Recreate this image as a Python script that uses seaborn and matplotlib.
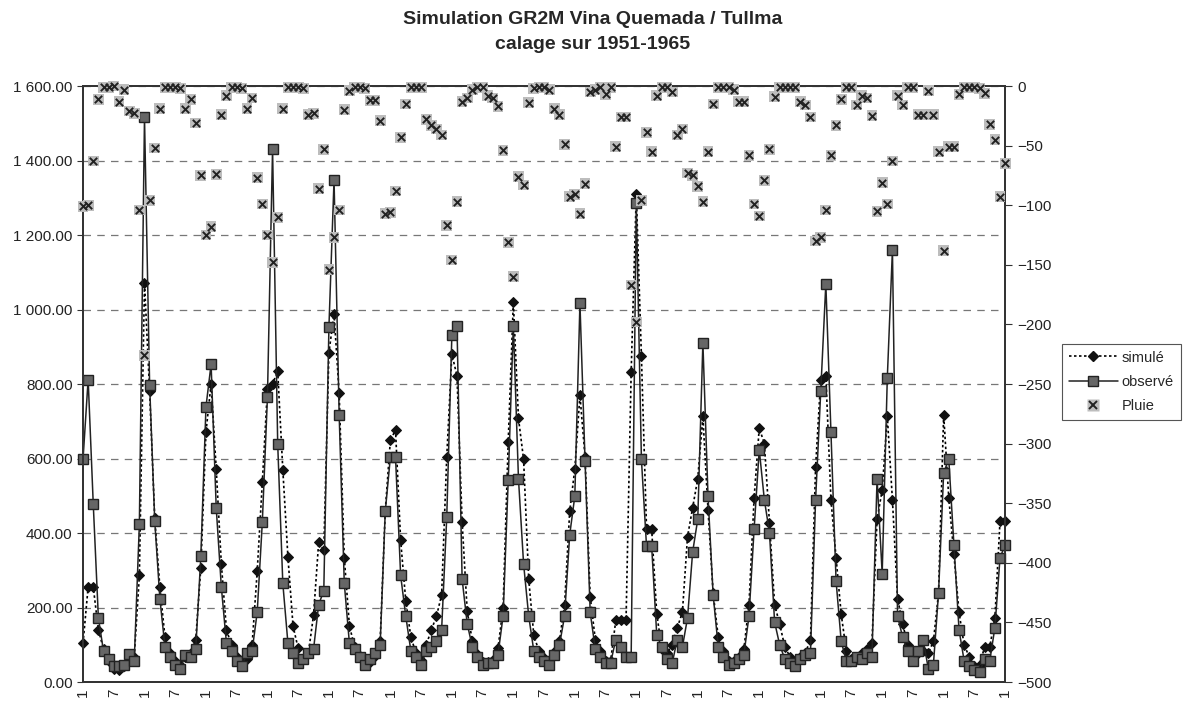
import numpy as np
import pandas as pd
import matplotlib
matplotlib.use("Agg")
import matplotlib.pyplot as plt
from matplotlib.ticker import FuncFormatter, MultipleLocator
from matplotlib.lines import Line2D
import seaborn as sns

# ---- data (monthly, Jan 1951 .. Jan 1966) ----
observe = [598, 812, 477, 172, 83, 62, 42, 42, 47, 75, 57, 424,
           1516, 798, 432, 224, 94, 68, 47, 36, 73, 68, 88, 338,
           739, 853, 468, 255, 104, 83, 57, 42, 78, 83, 187, 429,
           765, 1431, 640, 265, 104, 78, 52, 62, 78, 88, 208, 245,
           952, 1348, 718, 265, 104, 88, 68, 47, 62, 78, 99, 458,
           604, 604, 286, 177, 83, 68, 47, 83, 94, 109, 140, 442,
           931, 957, 276, 156, 94, 68, 47, 52, 52, 73, 177, 541,
           957, 546, 317, 177, 83, 68, 57, 47, 73, 99, 177, 395,
           499, 1017, 593, 187, 88, 68, 52, 52, 114, 94, 68, 68,
           1285, 598, 364, 364, 125, 94, 62, 50, 114, 94, 172, 349,
           437, 911, 499, 234, 94, 68, 47, 52, 62, 73, 177, 411,
           624, 489, 401, 161, 99, 62, 52, 42, 62, 73, 78, 489,
           780, 1069, 671, 271, 109, 57, 57, 68, 62, 78, 68, 546,
           291, 817, 1160, 177, 120, 83, 57, 83, 114, 36, 47, 239,
           562, 598, 369, 140, 57, 42, 31, 26, 62, 57, 146, 333,
           369]
simule = [104, 255, 255, 140, 88, 57, 36, 31, 42, 68, 68, 286,
          1072, 780, 440, 255, 120, 78, 57, 47, 68, 78, 114, 307,
          671, 801, 572, 317, 140, 99, 68, 52, 62, 99, 297, 536,
          786, 800, 835, 570, 335, 150, 90, 62, 78, 180, 375, 354,
          884, 989, 775, 333, 151, 95, 70, 50, 55, 70, 110, 460,
          650, 676, 380, 218, 120, 78, 60, 100, 140, 177, 234, 604,
          880, 822, 430, 190, 110, 75, 55, 55, 60, 90, 200, 645,
          1020, 708, 598, 276, 125, 83, 65, 55, 80, 110, 208, 458,
          572, 770, 604, 229, 114, 83, 57, 57, 166, 166, 166, 832,
          1311, 874, 411, 411, 182, 88, 78, 100, 146, 187, 390, 468,
          546, 713, 463, 239, 120, 83, 57, 57, 68, 88, 208, 494,
          682, 640, 427, 208, 155, 94, 68, 47, 68, 78, 114, 577,
          812, 822, 489, 333, 182, 83, 62, 68, 78, 88, 104, 437,
          515, 713, 489, 224, 156, 99, 73, 78, 83, 78, 109, 239,
          718, 494, 343, 187, 99, 68, 42, 47, 94, 94, 172, 432,
          432]
pluie = [101, 100, 63, 11, 1, 1, 0, 13, 3, 21, 23, 104,
         226, 96, 52, 19, 1, 1, 1, 2, 19, 11, 31, 75,
         125, 118, 74, 24, 8, 1, 1, 2, 19, 10, 77, 99,
         125, 148, 110, 19, 1, 1, 1, 2, 24, 23, 86, 53,
         154, 127, 104, 20, 4, 1, 1, 2, 12, 12, 29, 107,
         106, 88, 43, 15, 1, 1, 1, 28, 33, 36, 41, 117,
         146, 97, 13, 10, 3, 1, 1, 8, 10, 17, 54, 131,
         160, 76, 83, 14, 2, 1, 1, 3, 19, 24, 49, 93,
         91, 107, 82, 5, 3, 1, 7, 1, 51, 26, 26, 167,
         198, 96, 39, 55, 8, 1, 1, 5, 41, 36, 73, 75,
         84, 97, 55, 15, 1, 1, 1, 3, 13, 13, 58, 99,
         109, 79, 53, 9, 1, 1, 1, 1, 13, 16, 26, 130,
         127, 104, 58, 33, 11, 1, 1, 16, 8, 10, 25, 105,
         81, 99, 63, 8, 16, 1, 1, 24, 24, 4, 24, 55,
         138, 51, 51, 7, 1, 1, 1, 2, 6, 32, 45, 93,
         65]
month_labels = ["1", "7"]

n = len(observe)
mois = np.arange(n)
df = pd.DataFrame({"mois": mois, "simule": simule, "observe": observe,
                   "pluie_neg": -np.array(pluie, dtype=float)})

sns.set_style("white")
plt.rcParams["font.family"] = ["Liberation Sans", "DejaVu Sans"]

fig = plt.figure(figsize=(11.86, 7.05), dpi=100)
ax = fig.add_axes([0.070, 0.0326, 0.7775, 0.8454])

# gridlines
ax.yaxis.grid(True, linestyle=(0, (6, 5)), color="#777777", linewidth=0.9)
ax.set_axisbelow(True)

sns.lineplot(data=df, x="mois", y="simule", ax=ax, color="black",
             linestyle=(0, (1.5, 1.5)), linewidth=1.2, marker="D",
             markersize=5, markerfacecolor="#111111",
             markeredgecolor="#111111", label="simulé", legend=False,
             clip_on=False)
sns.lineplot(data=df, x="mois", y="observe", ax=ax, color="#222222",
             linewidth=1.1, marker="s", markersize=7,
             markerfacecolor="#666666", markeredgecolor="#222222",
             markeredgewidth=1.0, label="observé", legend=False, clip_on=False)

ax.set_xlim(0, n - 1)
ax.set_ylim(0, 1600)
ax.yaxis.set_major_locator(MultipleLocator(200))
ax.yaxis.set_major_formatter(FuncFormatter(lambda v, p: f"{v:,.2f}".replace(",", " ")))
ax.set_xticks(np.arange(0, n, 6))
ax.set_xticklabels([month_labels[(k // 6) % 2] for k in range(0, n, 6)],
                   rotation=90, fontsize=11)
ax.set_xticks(mois, minor=True)
ax.tick_params(axis="x", which="both", direction="inout", length=6,
               width=0.8, colors="#333333", pad=2)
ax.tick_params(axis="x", labelcolor="#222222")
ax.tick_params(axis="y", which="major", direction="out", length=4,
               labelsize=11, colors="#333333", labelcolor="#222222")
ax.set_xlabel("")
ax.set_ylabel("")

# right axis: rainfall
ax2 = ax.twinx()
sns.scatterplot(data=df, x="mois", y="pluie_neg", ax=ax2, marker="s", s=60,
                color="#bdbdbd", edgecolor="none", legend=False, clip_on=False,
                zorder=3)
sns.scatterplot(data=df, x="mois", y="pluie_neg", ax=ax2, marker="x", s=28,
                color="#222222", linewidth=1.4, legend=False, clip_on=False,
                zorder=4)
ax2.set_ylim(-500, 0)
ax2.yaxis.set_major_locator(MultipleLocator(50))
ax2.tick_params(axis="y", direction="out", length=5, labelsize=11,
                colors="#333333", labelcolor="#222222")
ax2.set_ylabel("")
ax2.set_xlim(0, n - 1)

for a in (ax, ax2):
    for s in a.spines.values():
        s.set_visible(True)
        s.set_color("#333333")
        s.set_linewidth(1.3)

fig.text(0.500, 0.972, "Simulation GR2M Vina Quemada / Tullma", ha="center",
         va="center", fontsize=14, fontweight="bold")
fig.text(0.500, 0.937, "calage sur 1951-1965", ha="center", va="center",
         fontsize=14, fontweight="bold")

# legend
h_sim = Line2D([], [], color="black", linestyle=(0, (1.5, 1.5)), linewidth=1.2,
               marker="D", markersize=5, markerfacecolor="#111111",
               markeredgecolor="#111111")
h_obs = Line2D([], [], color="#222222", linewidth=1.1, marker="s",
               markersize=7, markerfacecolor="#666666", markeredgecolor="#222222")
h_p1 = Line2D([], [], linestyle="none", marker="s", markersize=8,
              markerfacecolor="#bdbdbd", markeredgecolor="none")
h_p2 = Line2D([], [], linestyle="none", marker="x", markersize=5.5,
              color="#222222", markeredgewidth=1.4)
leg = fig.legend([h_sim, h_obs, (h_p1, h_p2)], ["simulé", "observé", "Pluie"],
                 loc="upper left", bbox_to_anchor=(0.8955, 0.512),
                 borderaxespad=0, fontsize=10.5, frameon=True, fancybox=False,
                 edgecolor="#555555", framealpha=1, borderpad=0.45,
                 handlelength=3.4, handletextpad=0.25, labelspacing=0.7)
leg.get_frame().set_linewidth(0.8)

fig.savefig("out.png", dpi=100, facecolor="white")
